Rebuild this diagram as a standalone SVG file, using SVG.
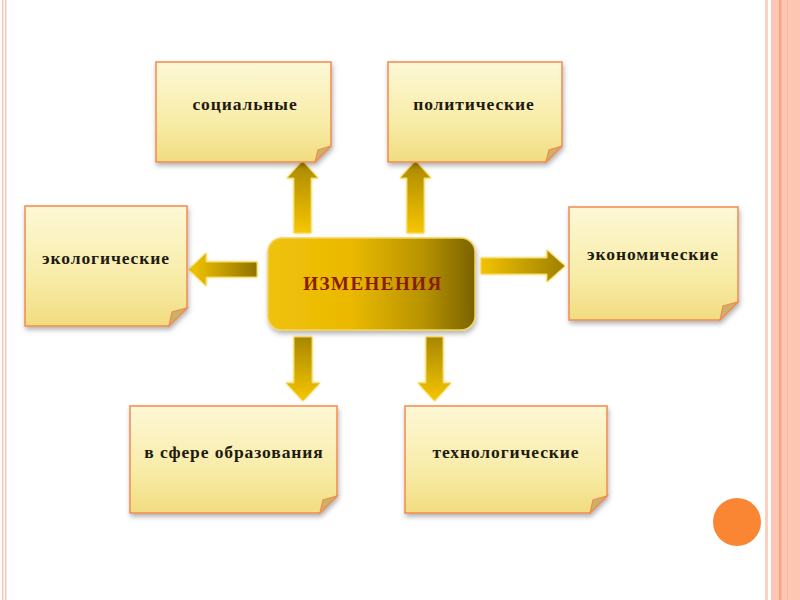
<svg xmlns="http://www.w3.org/2000/svg" width="800" height="600" viewBox="0 0 800 600">
<defs>
<linearGradient id="note" x1="0" y1="0" x2="0" y2="1">
<stop offset="0" stop-color="#fdf8d6"/>
<stop offset="0.6" stop-color="#f8eca8"/>
<stop offset="1" stop-color="#f1dc80"/>
</linearGradient>
<linearGradient id="center" x1="0" y1="0" x2="1" y2="0">
<stop offset="0" stop-color="#efc20c"/>
<stop offset="0.4" stop-color="#eab900"/>
<stop offset="0.75" stop-color="#b89300"/>
<stop offset="1" stop-color="#7a6206"/>
</linearGradient>
<linearGradient id="arrV" x1="0" y1="0" x2="0" y2="1">
<stop offset="0" stop-color="#a88700"/>
<stop offset="1" stop-color="#f6c600"/>
</linearGradient>
<linearGradient id="arrL" x1="0" y1="0" x2="1" y2="0">
<stop offset="0" stop-color="#f6c600"/>
<stop offset="1" stop-color="#8f7300"/>
</linearGradient>
<linearGradient id="arrR" x1="0" y1="0" x2="1" y2="0">
<stop offset="0" stop-color="#f2c200"/>
<stop offset="1" stop-color="#9e7f00"/>
</linearGradient>
<filter id="sh" x="-10%" y="-10%" width="125%" height="130%">
<feDropShadow dx="1" dy="3" stdDeviation="2.5" flood-color="#000" flood-opacity="0.3"/>
</filter>
<filter id="glow" x="-30%" y="-30%" width="160%" height="160%">
<feDropShadow dx="0" dy="0" stdDeviation="1.2" flood-color="#f7d24a" flood-opacity="0.9"/>
</filter>
</defs>
<style>
.note{fill:url(#note);stroke:#f28a50;stroke-width:1.5;filter:url(#sh)}
.fold{fill:#c9b36a;stroke:#f28a50;stroke-width:1.2}
.lbl{font-family:"Liberation Serif","DejaVu Serif",serif;font-weight:bold;font-size:17.5px;fill:#1e1a10;text-anchor:middle;letter-spacing:0.9px}
.arr{stroke:#f8d860;stroke-width:1;filter:url(#glow)}
</style>
<rect width="800" height="600" fill="#fff"/>
<g id="border">
<rect x="2" y="0" width="1.5" height="600" fill="#fbc8b6"/>
<rect x="5" y="0" width="1.5" height="600" fill="#fbc8b6"/>
<rect x="765" y="0" width="3" height="600" fill="#fcd0c0"/>
<rect x="771" y="0" width="29" height="600" fill="#fdc6b3"/>
<rect x="779" y="0" width="2.5" height="600" fill="#f4a585"/>
<rect x="787" y="0" width="1" height="600" fill="#f9b8a0"/>
</g>
<circle cx="737" cy="522" r="24" fill="#fa8634"/>
<g id="connectors">
<path class="arr" fill="url(#arrV)" d="M294,233 V178 H287 L302.5,161 L318,178 H311 V233 Z"/>
<path class="arr" fill="url(#arrV)" d="M407,233 V178 H400 L415.5,161 L431,178 H424 V233 Z"/>
<path class="arr" fill="url(#arrL)" d="M257,262 H206 V253 L189,269.5 L206,286 V277 H257 Z"/>
<path class="arr" fill="url(#arrR)" d="M481,258 H547 V250 L565,266 L547,282 V274 H481 Z"/>
<path class="arr" fill="url(#arrV)" d="M294,337 V383 H286 L303,401 L320,383 H312 V337 Z"/>
<path class="arr" fill="url(#arrV)" d="M426,337 V383 H418 L434.5,401 L451,383 H443 V337 Z"/>
</g>
<g id="center-node">
<rect x="268" y="238" width="207" height="92" rx="14" fill="url(#center)" stroke="#f3d25a" stroke-width="1.5" filter="url(#sh)"/>
<text x="373" y="290" font-family="'Liberation Serif','DejaVu Serif',serif" font-weight="bold" font-size="19" fill="#8a1c06" text-anchor="middle" letter-spacing="1.5">ИЗМЕНЕНИЯ</text>
</g>
<g id="n-social">
<path class="note" d="M156,62 H331 V146 L315,162 H156 Z"/>
<path class="fold" d="M331,146 L315,162 L318,150 Z"/>
<text class="lbl" x="245" y="110">социальные</text>
</g>
<g id="n-polit">
<path class="note" d="M388,62 H562 V146 L546,162 H388 Z"/>
<path class="fold" d="M562,146 L546,162 L549,150 Z"/>
<text class="lbl" x="474" y="110">политические</text>
</g>
<g id="n-eco">
<path class="note" d="M25,206 H187 V308 L169,326 H25 Z"/>
<path class="fold" d="M187,308 L169,326 L172,312 Z"/>
<text class="lbl" x="106" y="264">экологические</text>
</g>
<g id="n-econ">
<path class="note" d="M569,207 H738 V302 L720,320 H569 Z"/>
<path class="fold" d="M738,302 L720,320 L723,306 Z"/>
<text class="lbl" x="653" y="260">экономические</text>
</g>
<g id="n-edu">
<path class="note" d="M130,406 H337 V496 L320,513 H130 Z"/>
<path class="fold" d="M337,496 L320,513 L323,500 Z"/>
<text class="lbl" x="234" y="458">в сфере образования</text>
</g>
<g id="n-tech">
<path class="note" d="M405,406 H607 V496 L590,513 H405 Z"/>
<path class="fold" d="M607,496 L590,513 L593,500 Z"/>
<text class="lbl" x="506" y="458">технологические</text>
</g>
</svg>
